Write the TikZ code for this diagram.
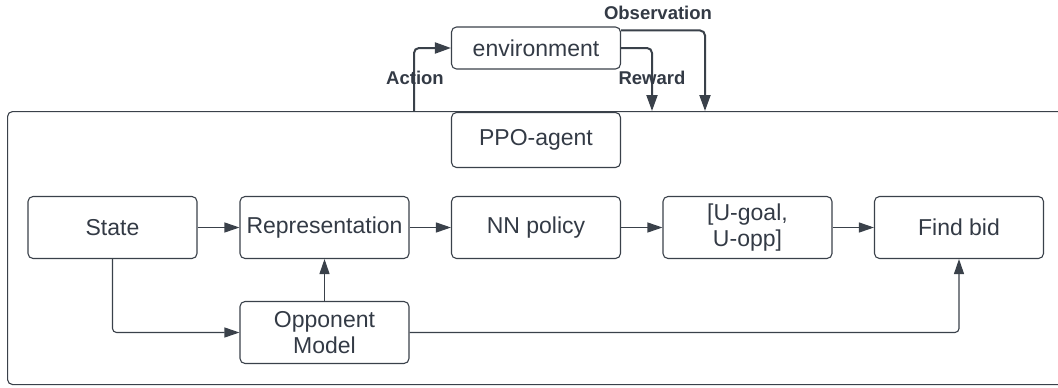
\documentclass[tikz,border=0pt]{standalone}
\usepackage{fontspec}
\setmainfont{Liberation Sans}
\usetikzlibrary{arrows.meta,calc}
\definecolor{ln}{HTML}{3A414A}
\definecolor{tx}{HTML}{333A45}
\tikzset{
  box/.style={draw=ln, line width=1.1pt, rounded corners=5pt, minimum width=169pt, minimum height=62pt, inner sep=2pt, align=center, text=tx, font=\fontsize{23}{26}\selectfont},
  conn/.style={draw=ln, line width=1.1pt, rounded corners=4pt, -{Triangle[length=15pt,width=10pt]}},
  bigconn/.style={draw=ln, line width=2pt, rounded corners=5pt, -{Triangle[length=16pt,width=11pt]}},
  lbl/.style={text=tx, font=\fontsize{18.5}{21}\selectfont\bfseries, inner sep=0pt}
}
\begin{document}
\begin{tikzpicture}[x=1pt,y=-1pt]
\useasboundingbox (0,0) rectangle (1058,388);
\node[draw=ln, line width=1.1pt, rounded corners=5pt, minimum width=1080pt, minimum height=273pt, anchor=north west, inner sep=0pt] (agent) at (7,111) {};
\node[box, minimum height=42pt] (env) at (536,48) {environment};
\node[box, minimum height=55pt] (ppo) at (536,140) {PPO-agent};
\node[box] (state) at (112.5,227.5) {State};
\node[box] (rep) at (324.5,227.5) {Representation};
\node[box] (nn) at (536,227.5) {NN policy};
\node[box] (ug) at (747.5,227.5) {[U-goal,\\U-opp]};
\node[box] (fb) at (959,227.5) {Find bid};
\node[box] (opp) at (324.5,332.5) {Opponent\\Model};
\coordinate (actstart) at (414,111);
\coordinate (rewend) at (652,111);
\coordinate (obsend) at (705,111);
\draw[bigconn] (actstart) |- (env.west);
\draw[bigconn] (env.east) -| (rewend);
\draw[bigconn] ($(env.north east)+(0,4)$) -| (obsend);
\node[lbl] (actlbl) at (415,78) {Action};
\node[lbl] (rewlbl) at (652,78) {Reward};
\node[lbl] (obslbl) at (658,13) {Observation};
\draw[conn] (state) -- (rep);
\draw[conn] (rep) -- (nn);
\draw[conn] (nn) -- (ug);
\draw[conn] (ug) -- (fb);
\draw[conn] (state.south) |- (opp.west);
\draw[conn] (opp) -- (rep);
\draw[conn] (opp.east) -| (fb.south);
\end{tikzpicture}
\end{document}
